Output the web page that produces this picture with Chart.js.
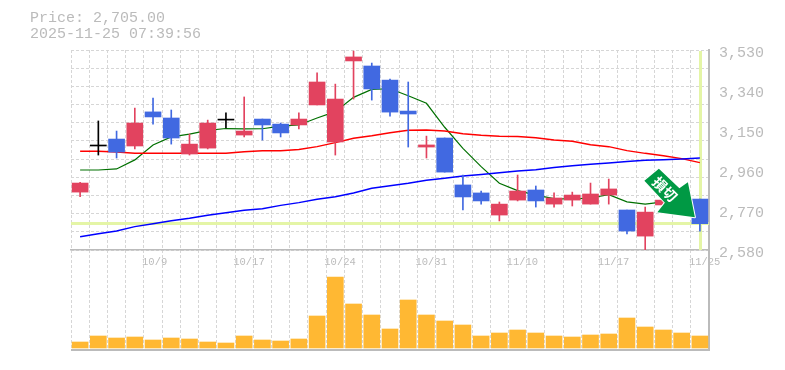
<!DOCTYPE html>
<html lang="en">
<head>
  <meta charset="UTF-8" />
  <title>Price chart</title>
  <style>
    body { margin: 0; background: #fff; }
    #wrap { position: relative; width: 785px; height: 370px; }
    #info {
      position: absolute; left: 30px; top: 11px;
      font: 15px/15.5px 'Liberation Mono', monospace;
      color: #bbb; white-space: pre;
    }
    canvas { display: block; }
  </style>
  <script src="https://cdn.jsdelivr.net/npm/chart.js@4"></script>
</head>
<body>
  <div id="wrap">
    <div id="info">Price: 2,705.00
2025-11-25 07:39:56</div>
    <canvas id="chart" width="785" height="370"></canvas>
  </div>
  <script>
    const dates = ['10/3','10/6','10/7','10/8','10/9','10/10','10/14','10/15','10/16','10/17','10/20','10/21','10/22','10/23','10/24','10/27','10/28','10/29','10/30','10/31','11/4','11/5','11/6','11/7','11/10','11/11','11/12','11/13','11/14','11/17','11/18','11/19','11/20','11/21','11/25']
    const dateTicks = ['10/9','10/17','10/24','10/31','11/10','11/17','11/25']
    const priceTicks = [3530, 3340, 3150, 2960, 2770, 2580]

    const open  = [2855,3074,3107,3074,3236,3207,3036,3064,3197,3126,3202,3178,3174,3269,3093,3478,3454,3387,3240,3069,3112,2889,2851,2746,2817,2865,2798,2817,2798,2841,2770,2646,2794,2820,2822]
    const high  = [2902,3193,3145,3254,3302,3245,3131,3197,3231,3307,3202,3183,3231,3421,3368,3525,3468,3392,3378,3121,3112,2936,2860,2808,2936,2884,2851,2855,2898,2917,2770,2784,2830,2860,2822]
    const low   = [2833,3031,3017,3060,3178,3083,3031,3060,3160,3117,3102,3117,3155,3269,3031,3297,3292,3216,3069,3017,2950,2770,2798,2718,2813,2784,2784,2789,2798,2798,2656,2580,2785,2805,2670]
    const close = [2898,3074,3045,3183,3212,3112,3083,3183,3197,3145,3174,3136,3202,3378,3297,3497,3345,3235,3226,3079,2950,2832,2813,2798,2860,2813,2827,2841,2846,2870,2670,2760,2817,2845,2705]

    const maShort = [2960,2960,2965,3008,3079,3117,3130,3148,3157,3155,3156,3168,3174,3207,3237,3305,3343,3346,3313,3277,3163,3063,2976,2897,2862,2841,2824,2822,2827,2843,2809,2798,2809,2784,2760]
    const maMid   = [3049,3049,3045,3039,3039,3039,3039,3039,3039,3047,3052,3052,3057,3071,3090,3111,3123,3137,3149,3150,3145,3132,3125,3120,3119,3113,3102,3096,3080,3071,3052,3039,3028,3014,2995]
    const maLong  = [2643,2657,2670,2691,2705,2719,2731,2745,2757,2769,2776,2792,2805,2821,2833,2851,2873,2885,2897,2911,2921,2931,2939,2947,2955,2961,2972,2980,2987,2993,3000,3006,3009,3012,3017]

    const volume = [6,12,10,11,8,10,9,6,5,12,8,7,9,32,71,44,33,19,48,33,27,23,12,15,18,15,12,11,13,14,30,21,18,15,12]

    const UP = '#e2435f', DOWN = '#4169e1', DOJI = '#000'
    const candleColor = ctx => {
      const i = ctx.dataIndex
      if (open[i] === close[i]) return DOJI
      return close[i] > open[i] ? UP : DOWN
    }

    const gridPrices = []
    for (let k = 0; k <= 11; k++) gridPrices.push(2580 + 950 * k / 11)

    // yellow cross on the last price, under the candles
    const lastPriceLines = {
      id: 'lastPriceLines',
      beforeDatasetsDraw(chart) {
        const { ctx, chartArea, scales } = chart
        const x = Math.round(scales.x.getPixelForValue(34))
        const y = Math.round(scales.y.getPixelForValue(close[34]))
        ctx.save()
        ctx.fillStyle = '#e4f5a6'
        ctx.fillRect(chartArea.left, y - 2, chartArea.width, 3)
        ctx.fillRect(x - 1, chartArea.top + 1, 3, scales.y.bottom - chartArea.top - 1)
        ctx.restore()
      }
    }

    // green arrow pointing at the last candle
    const arrowMark = {
      id: 'arrowMark',
      afterDatasetsDraw(chart) {
        const { ctx, scales } = chart
        const tx = scales.x.getPixelForValue(34) - 5
        const ty = scales.y.getPixelForValue(close[34]) - 6.5
        const pts = [[0,0],[-37.5,-5],[-30,-14.5],[-50.5,-36.5],[-36,-48.5],[-15.5,-29],[-7,-35]]
        ctx.save()
        ctx.translate(tx, ty)
        ctx.beginPath()
        pts.forEach((p, i) => i ? ctx.lineTo(p[0], p[1]) : ctx.moveTo(p[0], p[1]))
        ctx.closePath()
        ctx.lineJoin = 'round'
        ctx.lineWidth = 2
        ctx.strokeStyle = '#fff'
        ctx.stroke()
        ctx.fillStyle = '#009944'
        ctx.fill()
        ctx.translate(-30, -28)
        ctx.rotate(Math.PI / 4)
        ctx.fillStyle = '#fff'
        ctx.font = 'bold 14px "Noto Sans CJK JP"'
        ctx.textAlign = 'center'
        ctx.textBaseline = 'middle'
        ctx.fillText('損切', 0, 0)
        ctx.restore()
      }
    }

    new Chart(document.getElementById('chart'), {
      data: {
        labels: dates,
        datasets: [
          { type: 'line', data: maShort, borderColor: '#007000', borderWidth: 1.2, pointRadius: 0, tension: 0, yAxisID: 'y', order: 5 },
          { type: 'line', data: maMid, borderColor: '#ff0000', borderWidth: 1.5, pointRadius: 0, tension: 0, yAxisID: 'y', order: 4 },
          { type: 'line', data: maLong, borderColor: '#0000ff', borderWidth: 1.5, pointRadius: 0, tension: 0, yAxisID: 'y', order: 3 },
          { type: 'bar', data: low.map((l, i) => [l, high[i]]), backgroundColor: candleColor, barThickness: 1, grouped: false, yAxisID: 'y', order: 2 },
          { type: 'bar', data: open.map((o, i) => [o, close[i]]), backgroundColor: candleColor, barThickness: 16, minBarLength: 1, grouped: false, yAxisID: 'y', order: 1 },
          { type: 'bar', data: volume, backgroundColor: '#ffb833', barThickness: 16, grouped: false, yAxisID: 'vol', order: 6 }
        ]
      },
      options: {
        responsive: false,
        animation: false,
        events: [],
        layout: { padding: { left: 71, top: 50, right: 20, bottom: 20 } },
        plugins: { legend: { display: false }, tooltip: { enabled: false } },
        scales: {
          x: {
            position: { y: 2580 },
            offset: true,
            grid: { color: '#d6d6d6', offset: true, drawTicks: false, lineWidth: 1 },
            border: { color: '#bbb', width: 1.5, dash: [3, 2] },
            ticks: {
              autoSkip: false, maxRotation: 0, align: 'start', labelOffset: -11, padding: 6,
              color: '#bbb', font: { family: 'Liberation Mono', size: 10.5 },
              callback(v) { const d = this.getLabelForValue(v); return dateTicks.includes(d) ? d : '' }
            }
          },
          y: {
            position: 'right', stack: 'main', stackWeight: 2,
            min: 2580, max: 3530,
            afterBuildTicks(scale) {
              const vals = [...gridPrices, ...priceTicks.filter(p => !gridPrices.includes(p))]
              scale.ticks = vals.sort((a, b) => a - b).map(value => ({ value }))
            },
            afterFit(scale) { scale.width = 56 },
            grid: {
              drawTicks: false, lineWidth: 1,
              color: ctx => gridPrices.includes(ctx.tick.value) ? '#d6d6d6' : 'transparent'
            },
            border: { color: '#bbb', width: 2, dash: [3, 2] },
            ticks: {
              autoSkip: false, padding: 10, labelOffset: 3,
              color: '#bbb', font: { family: 'Liberation Mono', size: 15 },
              callback: v => priceTicks.includes(v) ? v.toLocaleString('en-US') : ''
            }
          },
          vol: {
            position: 'right', stack: 'main', stackWeight: 1,
            min: -2, max: 98,
            afterBuildTicks(scale) { scale.ticks = [{ value: -2 }] },
            grid: { drawTicks: false, color: '#bbb', lineWidth: 2 },
            border: { color: '#bbb', width: 2 },
            ticks: { display: false }
          }
        }
      },
      plugins: [lastPriceLines, arrowMark]
    })
  </script>
</body>
</html>
